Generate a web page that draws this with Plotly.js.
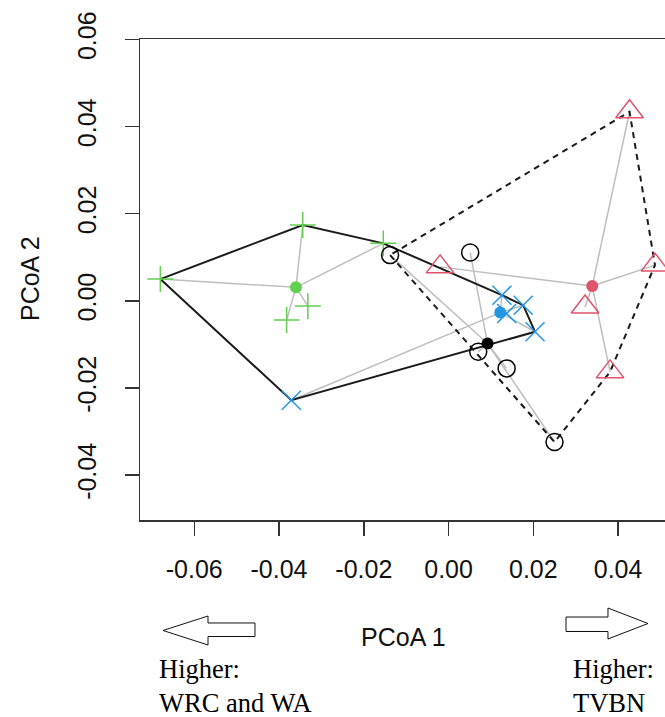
<!DOCTYPE html>
<html><head><meta charset="utf-8">
<script src="https://cdn.plot.ly/plotly-3.0.1.min.js"></script>
<style>html,body{margin:0;padding:0;overflow:hidden;background:#fff}</style>
</head><body><div id="chart" style="width:700px;height:717px"></div>
<script>
// ---- data (PCoA scores) ----
const greenX = [-0.0680, -0.0344, -0.0154, -0.0332, -0.0382];
const greenY = [0.0050, 0.0174, 0.0132, -0.0012, -0.0044];
const greenCentroid = [-0.0360, 0.0031];

const blueX = [-0.0371, 0.0126, 0.0137, 0.0176, 0.0204];
const blueY = [-0.0228, 0.0013, -0.0029, -0.0010, -0.0071];
const blueCentroid = [0.0122, -0.0027];

const redX = [0.0427, -0.0020, 0.0487, 0.0322, 0.0381];
const redY = [0.0434, 0.0078, 0.0082, -0.0014, -0.0163];
const redCentroid = [0.0339, 0.0034];

const blackX = [-0.0138, 0.0051, 0.0070, 0.0137, 0.0250];
const blackY = [0.0105, 0.0111, -0.0117, -0.0155, -0.0324];
const blackCentroid = [0.0092, -0.0098];

const xTickVals = [-0.06, -0.04, -0.02, 0.00, 0.02, 0.04];
const xTickText = ['-0.06', '-0.04', '-0.02', '0.00', '0.02', '0.04'];
const yTickVals = [-0.04, -0.02, 0.00, 0.02, 0.04, 0.06];
const yTickText = ['-0.04', '-0.02', '0.00', '0.02', '0.04', '0.06'];

// ---- helpers ----
function spider(xs, ys, c) {
  const sx = [], sy = [];
  xs.forEach((x, i) => { sx.push(c[0], x, null); sy.push(c[1], ys[i], null); });
  return {x: sx, y: sy};
}
function hull(xs, ys) {
  const pts = xs.map((x, i) => [x, ys[i]]).sort((a, b) => a[0] - b[0] || a[1] - b[1]);
  const cross = (o, a, b) => (a[0]-o[0])*(b[1]-o[1]) - (a[1]-o[1])*(b[0]-o[0]);
  const lower = [], upper = [];
  for (const p of pts) { while (lower.length >= 2 && cross(lower[lower.length-2], lower[lower.length-1], p) <= 0) lower.pop(); lower.push(p); }
  for (let i = pts.length - 1; i >= 0; i--) { const p = pts[i]; while (upper.length >= 2 && cross(upper[upper.length-2], upper[upper.length-1], p) <= 0) upper.pop(); upper.push(p); }
  upper.pop(); lower.pop();
  const h = lower.concat(upper); h.push(h[0]);
  return {x: h.map(p => p[0]), y: h.map(p => p[1])};
}

const GREEN = '#61D04F', BLUE = '#2297E6', RED = '#DF536B', BLACK = '#000000', GRAY = '#BEBEBE';
const traces = [];
// spider segments
[[greenX, greenY, greenCentroid], [blueX, blueY, blueCentroid], [redX, redY, redCentroid], [blackX, blackY, blackCentroid]].forEach(g => {
  const s = spider(g[0], g[1], g[2]);
  traces.push({type: 'scatter', mode: 'lines', x: s.x, y: s.y, line: {color: GRAY, width: 1.5}, hoverinfo: 'skip'});
});
// hulls
const hA = hull(greenX.concat(blueX), greenY.concat(blueY));
const hB = hull(redX.concat(blackX), redY.concat(blackY));
traces.push({type: 'scatter', mode: 'lines', x: hA.x, y: hA.y, line: {color: '#1a1a1a', width: 2}, hoverinfo: 'skip'});
traces.push({type: 'scatter', mode: 'lines', x: hB.x, y: hB.y, line: {color: '#1a1a1a', width: 2, dash: '6px,5px'}, hoverinfo: 'skip'});
// points
traces.push({type: 'scatter', mode: 'markers', x: greenX, y: greenY, marker: {symbol: 'cross-thin-open', size: 18.5, color: GREEN, line: {color: GREEN, width: 1.5}}});
traces.push({type: 'scatter', mode: 'markers', x: blueX, y: blueY, marker: {symbol: 'x-thin-open', size: 19, color: BLUE, line: {color: BLUE, width: 1.5}}});
traces.push({type: 'scatter', mode: 'markers', x: redX, y: redY, marker: {symbol: 'triangle-up-open', size: 24, color: RED, line: {color: RED, width: 1.5}}});
traces.push({type: 'scatter', mode: 'markers', x: blackX, y: blackY, marker: {symbol: 'circle-open', size: 17, color: BLACK, line: {color: BLACK, width: 1.5}}});
// centroids
traces.push({type: 'scatter', mode: 'markers',
  x: [greenCentroid[0], blueCentroid[0], redCentroid[0], blackCentroid[0]],
  y: [greenCentroid[1], blueCentroid[1], redCentroid[1], blackCentroid[1]],
  marker: {symbol: 'circle', size: 12, color: [GREEN, BLUE, RED, BLACK]}});

// ---- layout ----
const M = {l: 140, r: 34, t: 39, b: 197};
const PW = 700 - M.l - M.r, PH = 717 - M.t - M.b;
const px = v => ((v - M.l) / PW).toFixed(4);
const py = v => ((M.t + PH - v) / PH).toFixed(4);
function pathFrom(pts) { return 'M' + pts.map(p => px(p[0]) + ',' + py(p[1])).join(' L') + ' Z'; }
const leftArrow = [[163,630.5],[208,616],[208,623],[255,623],[255,636.5],[208,636.5],[208,645]];
const rightArrow = [[566,617],[608,617],[608,608],[648,623.5],[608,639],[608,631.5],[566,631.5]];

const sans = 'Liberation Sans, Arial, sans-serif';
const serif = 'Liberation Serif, Times New Roman, serif';
const layout = {
  width: 700, height: 717, margin: M, showlegend: false,
  paper_bgcolor: '#fff', plot_bgcolor: '#fff',
  font: {family: sans, color: '#000', size: 25},
  xaxis: {range: [-0.0728, 0.0513], tickvals: xTickVals, ticktext: xTickText, ticks: 'outside', ticklen: 14, tickwidth: 1.5, tickcolor: '#333',
    showline: true, linecolor: '#333', linewidth: 1.5, mirror: true, showgrid: false, zeroline: false, ticklabelstandoff: 12,
    tickfont: {size: 25, family: sans, color: '#111'}},
  yaxis: {range: [-0.0503, 0.0601], tickvals: yTickVals, ticktext: yTickText, ticks: 'outside', ticklen: 14, tickwidth: 1.5, tickcolor: '#333',
    showline: true, linecolor: '#333', linewidth: 1.5, mirror: true, showgrid: false, zeroline: false, tickangle: -90, ticklabelstandoff: 19,
    tickfont: {size: 25, family: sans, color: '#111'}},
  shapes: [
    {type: 'path', xref: 'paper', yref: 'paper', path: pathFrom(leftArrow), line: {color: '#111', width: 1}, fillcolor: 'rgba(0,0,0,0)'},
    {type: 'path', xref: 'paper', yref: 'paper', path: pathFrom(rightArrow), line: {color: '#111', width: 1}, fillcolor: 'rgba(0,0,0,0)'}
  ],
  annotations: [
    {xref: 'paper', yref: 'paper', x: px(403), y: py(637), text: 'PCoA 1', showarrow: false, xanchor: 'center', yanchor: 'middle', font: {size: 25, family: sans, color: '#111'}},
    {xref: 'paper', yref: 'paper', x: px(30), y: py(279), text: 'PCoA 2', textangle: -90, showarrow: false, xanchor: 'center', yanchor: 'middle', font: {size: 25, family: sans, color: '#111'}},
    {xref: 'paper', yref: 'paper', x: px(157), y: py(686), text: 'Higher:<br>WRC and WA', showarrow: false, xanchor: 'left', yanchor: 'middle', align: 'left', font: {size: 26.5, family: serif, color: '#000'}},
    {xref: 'paper', yref: 'paper', x: px(571), y: py(686), text: 'Higher:<br>TVBN', showarrow: false, xanchor: 'left', yanchor: 'middle', align: 'left', font: {size: 26.5, family: serif, color: '#000'}}
  ]
};
Plotly.newPlot('chart', traces, layout, {displayModeBar: false, staticPlot: true});
</script></body></html>
